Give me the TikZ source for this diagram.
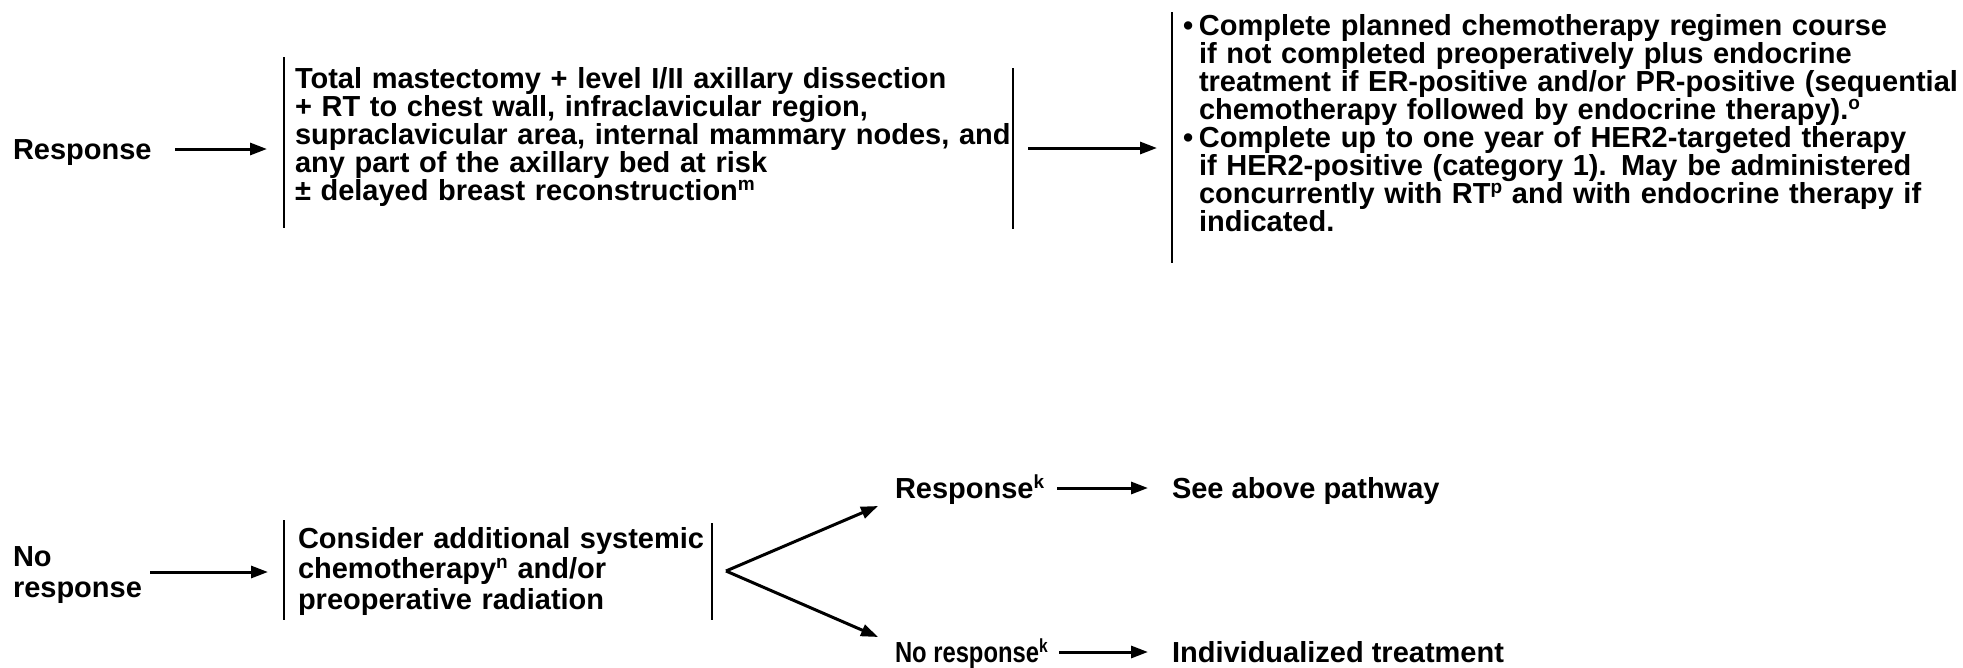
\documentclass[tikz,border=0pt]{standalone}
\usepackage{fontspec}
\setmainfont{Liberation Sans}
\usetikzlibrary{arrows.meta,calc}
\newcommand\spr[1]{\raisebox{10pt}{\fontsize{19}{19}\selectfont #1}}
\newcommand\bul{\makebox[16pt][l]{•}}
\newcommand\hang{\hspace*{16pt}}
\begin{document}
\begin{tikzpicture}[x=1pt,y=-1pt,
  txt/.style={anchor=base west,inner sep=0pt,outer sep=0pt,align=left,
    font=\fontsize{29}{28}\selectfont\bfseries},
  multi/.style={txt,text width=1000pt},
  bar/.style={line width=2.7pt},
  arr/.style={line width=3pt,-{Triangle[length=17pt,width=12pt]}}]
\useasboundingbox[fill=white] (0,0) rectangle (1963,667);

% ---------- top pathway ----------
\node[txt] (resp1) at (13,159) {Response};
\node[multi] (box1) at (295,88)
  {Total mastectomy + level I/II axillary dissection\\
   + RT to chest wall, infraclavicular region,\\
   supraclavicular area, internal mammary nodes, and\\
   any part of the axillary bed at risk\\
   ± delayed breast reconstruction\spr{m}};
\coordinate (b1tl) at (284,57);  \coordinate (b1bl) at (284,228);
\coordinate (b1tr) at (1013,68); \coordinate (b1br) at (1013,229);
\draw[bar] (b1tl) -- (b1bl);
\draw[bar] (b1tr) -- (b1br);

\node[multi] (box2) at (1183,35)
  {\bul Complete planned chemotherapy regimen course\\
   \hang if not completed preoperatively plus endocrine\\
   \hang treatment if ER-positive and/or PR-positive (sequential\\
   \hang chemotherapy followed by endocrine therapy).\spr{o}\\
   \bul Complete up to one year of HER2-targeted therapy\\
   \hang if HER2-positive (category 1). May be administered\\
   \hang concurrently with RT\spr{p} and with endocrine therapy if\\
   \hang indicated.};
\coordinate (b2t) at (1172,12); \coordinate (b2b) at (1172,263);
\draw[bar] (b2t) -- (b2b);

\coordinate (a1s) at (175,149);  \coordinate (a1e) at (267,149);
\coordinate (a2s) at (1028,148); \coordinate (a2e) at (1157,148);
\draw[arr] (a1s) -- (a1e);
\draw[arr] (a2s) -- (a2e);

% ---------- bottom pathway ----------
\node[multi,font=\fontsize{29}{31}\selectfont\bfseries] (noresp) at (13,566) {No\\response};
\node[multi,font=\fontsize{29}{30.5}\selectfont\bfseries] (box3) at (298,548)
  {Consider additional systemic\\
   chemotherapy\spr{n} and/or\\
   preoperative radiation};
\coordinate (b3tl) at (284,520); \coordinate (b3bl) at (284,620);
\coordinate (b3tr) at (712,523); \coordinate (b3br) at (712,620);
\draw[bar] (b3tl) -- (b3bl);
\draw[bar] (b3tr) -- (b3br);

\coordinate (a3s) at (150,572); \coordinate (a3e) at (268,572);
\draw[arr] (a3s) -- (a3e);

\coordinate (br) at (726,571);
\coordinate (up) at (878,506);
\coordinate (dn) at (878,637);
\draw[arr] (br) -- (up);
\draw[arr] (br) -- (dn);

\node[txt] (resp2) at (895,498) {Response\spr{k}};
\node[txt] (see) at (1172,498) {See above pathway};
\node[txt] (noresp2) at (895,662) {\scalebox{0.82}[1]{No response\spr{k}}};
\node[txt] (indiv) at (1172,662) {Individualized treatment};

\coordinate (a4s) at (1057,488); \coordinate (a4e) at (1148,488);
\coordinate (a5s) at (1059,652); \coordinate (a5e) at (1148,652);
\draw[arr] (a4s) -- (a4e);
\draw[arr] (a5s) -- (a5e);
\end{tikzpicture}
\end{document}
